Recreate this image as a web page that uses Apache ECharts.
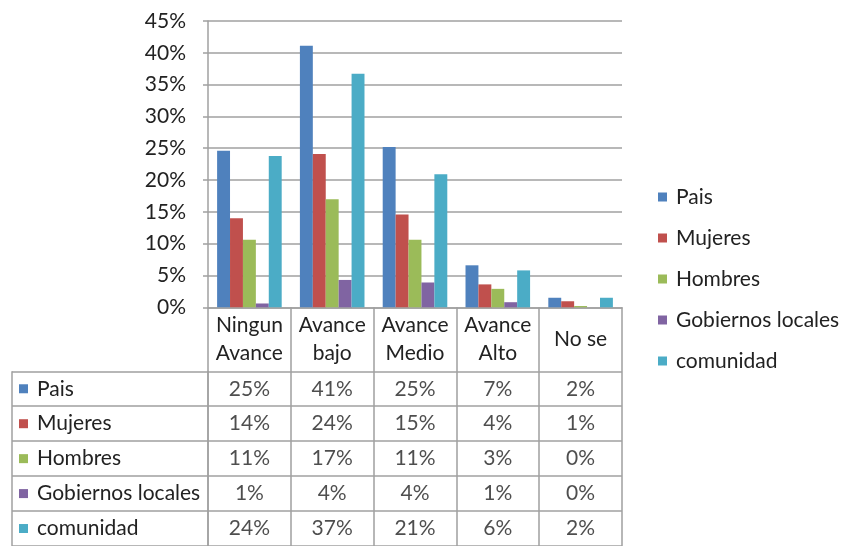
<!DOCTYPE html>
<html>
<head>
<meta charset="utf-8">
<script src="https://cdn.jsdelivr.net/npm/echarts@6/dist/echarts.min.js"></script>
<style>
  html, body { margin: 0; padding: 0; background: #fff; }
  #chart { width: 845px; height: 546px; }
</style>
</head>
<body>
<div id="chart"></div>
<script>
// Categories of progress and the groups surveyed (values in %)
const categories = ['Ningun\nAvance', 'Avance\nbajo', 'Avance\nMedio', 'Avance\nAlto', 'No se'];
const seriesNames = ['Pais', 'Mujeres', 'Hombres', 'Gobiernos locales', 'comunidad'];
const pais = [24.6, 41.1, 25.2, 6.6, 1.5];
const mujeres = [14.0, 24.1, 14.6, 3.6, 0.95];
const hombres = [10.6, 17.0, 10.6, 2.9, 0.2];
const gobiernos = [0.6, 4.3, 3.9, 0.8, 0.0];
const comunidad = [23.8, 36.7, 20.9, 5.8, 1.5];
const yTicks = { min: 0, max: 45, step: 5 };

const colors = ['#4F81BD', '#C0504D', '#9BBB59', '#8064A2', '#4BACC6'];
const seriesValues = [pais, mujeres, hombres, gobiernos, comunidad];

const FONT = 'Lato';
const TXT = '#222222';
const LINE = '#a0a0a0';

// Chart area spans x 208..622; table rows sit below it
const gridLeft = 208, gridWidth = 414;
const rowH = 36;

const barSeries = seriesNames.map((name, i) => ({
  name: name,
  type: 'bar',
  xAxisIndex: 0,
  yAxisIndex: 0,
  data: seriesValues[i],
  barGap: 0,
  barCategoryGap: '22%',
  itemStyle: { color: colors[i] },
  emphasis: { disabled: true }
}));

// Table cells: one text per (category, group), rounded to whole percent
const cellData = [];
seriesValues.forEach((vals, s) => {
  vals.forEach((v, c) => cellData.push([c, s, v]));
});

const rich = { t: { fontFamily: FONT, fontSize: 21, color: TXT, padding: [0, 0, 0, 9] } };
colors.forEach((col, i) => {
  rich['sq' + i] = { width: 9, height: 9, backgroundColor: col };
});

const option = {
  backgroundColor: '#fff',
  animation: false,
  textStyle: { fontFamily: FONT },
  legend: {
    data: seriesNames,
    orient: 'vertical',
    left: 653,
    top: 181,
    itemWidth: 9,
    itemHeight: 9,
    itemGap: 19,
    icon: 'rect',
    textStyle: { fontFamily: FONT, fontSize: 21, color: TXT, lineHeight: 22, padding: [0, 0, 0, 4] },
    selectedMode: false
  },
  grid: [
    { left: gridLeft, width: gridWidth, top: 21, height: 286.3 },
    { left: gridLeft, width: gridWidth, top: 307.3 + 64, height: rowH * 5 }
  ],
  xAxis: [
    {
      type: 'category',
      gridIndex: 0,
      data: categories,
      axisLine: { show: true, lineStyle: { color: LINE, width: 1.5 } },
      axisTick: { show: true, alignWithLabel: false, length: 245, lineStyle: { color: LINE, width: 1.5 } },
      axisLabel: {
        fontFamily: FONT, fontSize: 21, color: TXT,
        lineHeight: 28, verticalAlign: 'middle', margin: 32, interval: 0
      },
      splitLine: { show: false }
    },
    {
      type: 'category',
      gridIndex: 1,
      data: categories,
      axisLine: { show: false },
      axisTick: { show: false },
      axisLabel: { show: false },
      splitLine: { show: false }
    }
  ],
  yAxis: [
    {
      type: 'value',
      gridIndex: 0,
      min: yTicks.min,
      max: yTicks.max,
      interval: yTicks.step,
      axisLine: { show: true, lineStyle: { color: LINE, width: 1.5 } },
      axisTick: { show: true, length: 5, lineStyle: { color: LINE, width: 1.5 } },
      axisLabel: { formatter: '{value}%', fontFamily: FONT, fontSize: 21, color: TXT, margin: 22 },
      splitLine: { show: true, lineStyle: { color: LINE, width: 1.5 } }
    },
    {
      type: 'category',
      gridIndex: 1,
      data: seriesNames,
      inverse: true,
      axisLine: { show: true, lineStyle: { color: LINE, width: 1.5 } },
      axisTick: { show: true, alignWithLabel: false, length: 196, lineStyle: { color: LINE, width: 1.5 } },
      axisLabel: {
        align: 'left',
        margin: 189,
        formatter: (val, idx) => '{sq' + idx + '|}{t|' + val + '}',
        rich: rich
      },
      splitLine: { show: true, lineStyle: { color: LINE, width: 1.5 } }
    }
  ],
  series: barSeries.concat([{
    type: 'scatter',
    xAxisIndex: 1,
    yAxisIndex: 1,
    symbolSize: 0,
    data: cellData,
    silent: true,
    label: {
      show: true,
      position: 'inside',
      fontFamily: FONT,
      fontSize: 21,
      color: TXT,
      formatter: p => Math.round(p.value[2]) + '%'
    }
  }]),
  graphic: [{
    type: 'line',
    shape: { x1: 12, y1: 307.3 + 64, x2: 12, y2: 546 },
    style: { stroke: LINE, lineWidth: 1.5 },
    silent: true
  }]
};

const chart = echarts.init(document.getElementById('chart'), null, { renderer: 'canvas' });
chart.setOption(option);
</script>
</body>
</html>
